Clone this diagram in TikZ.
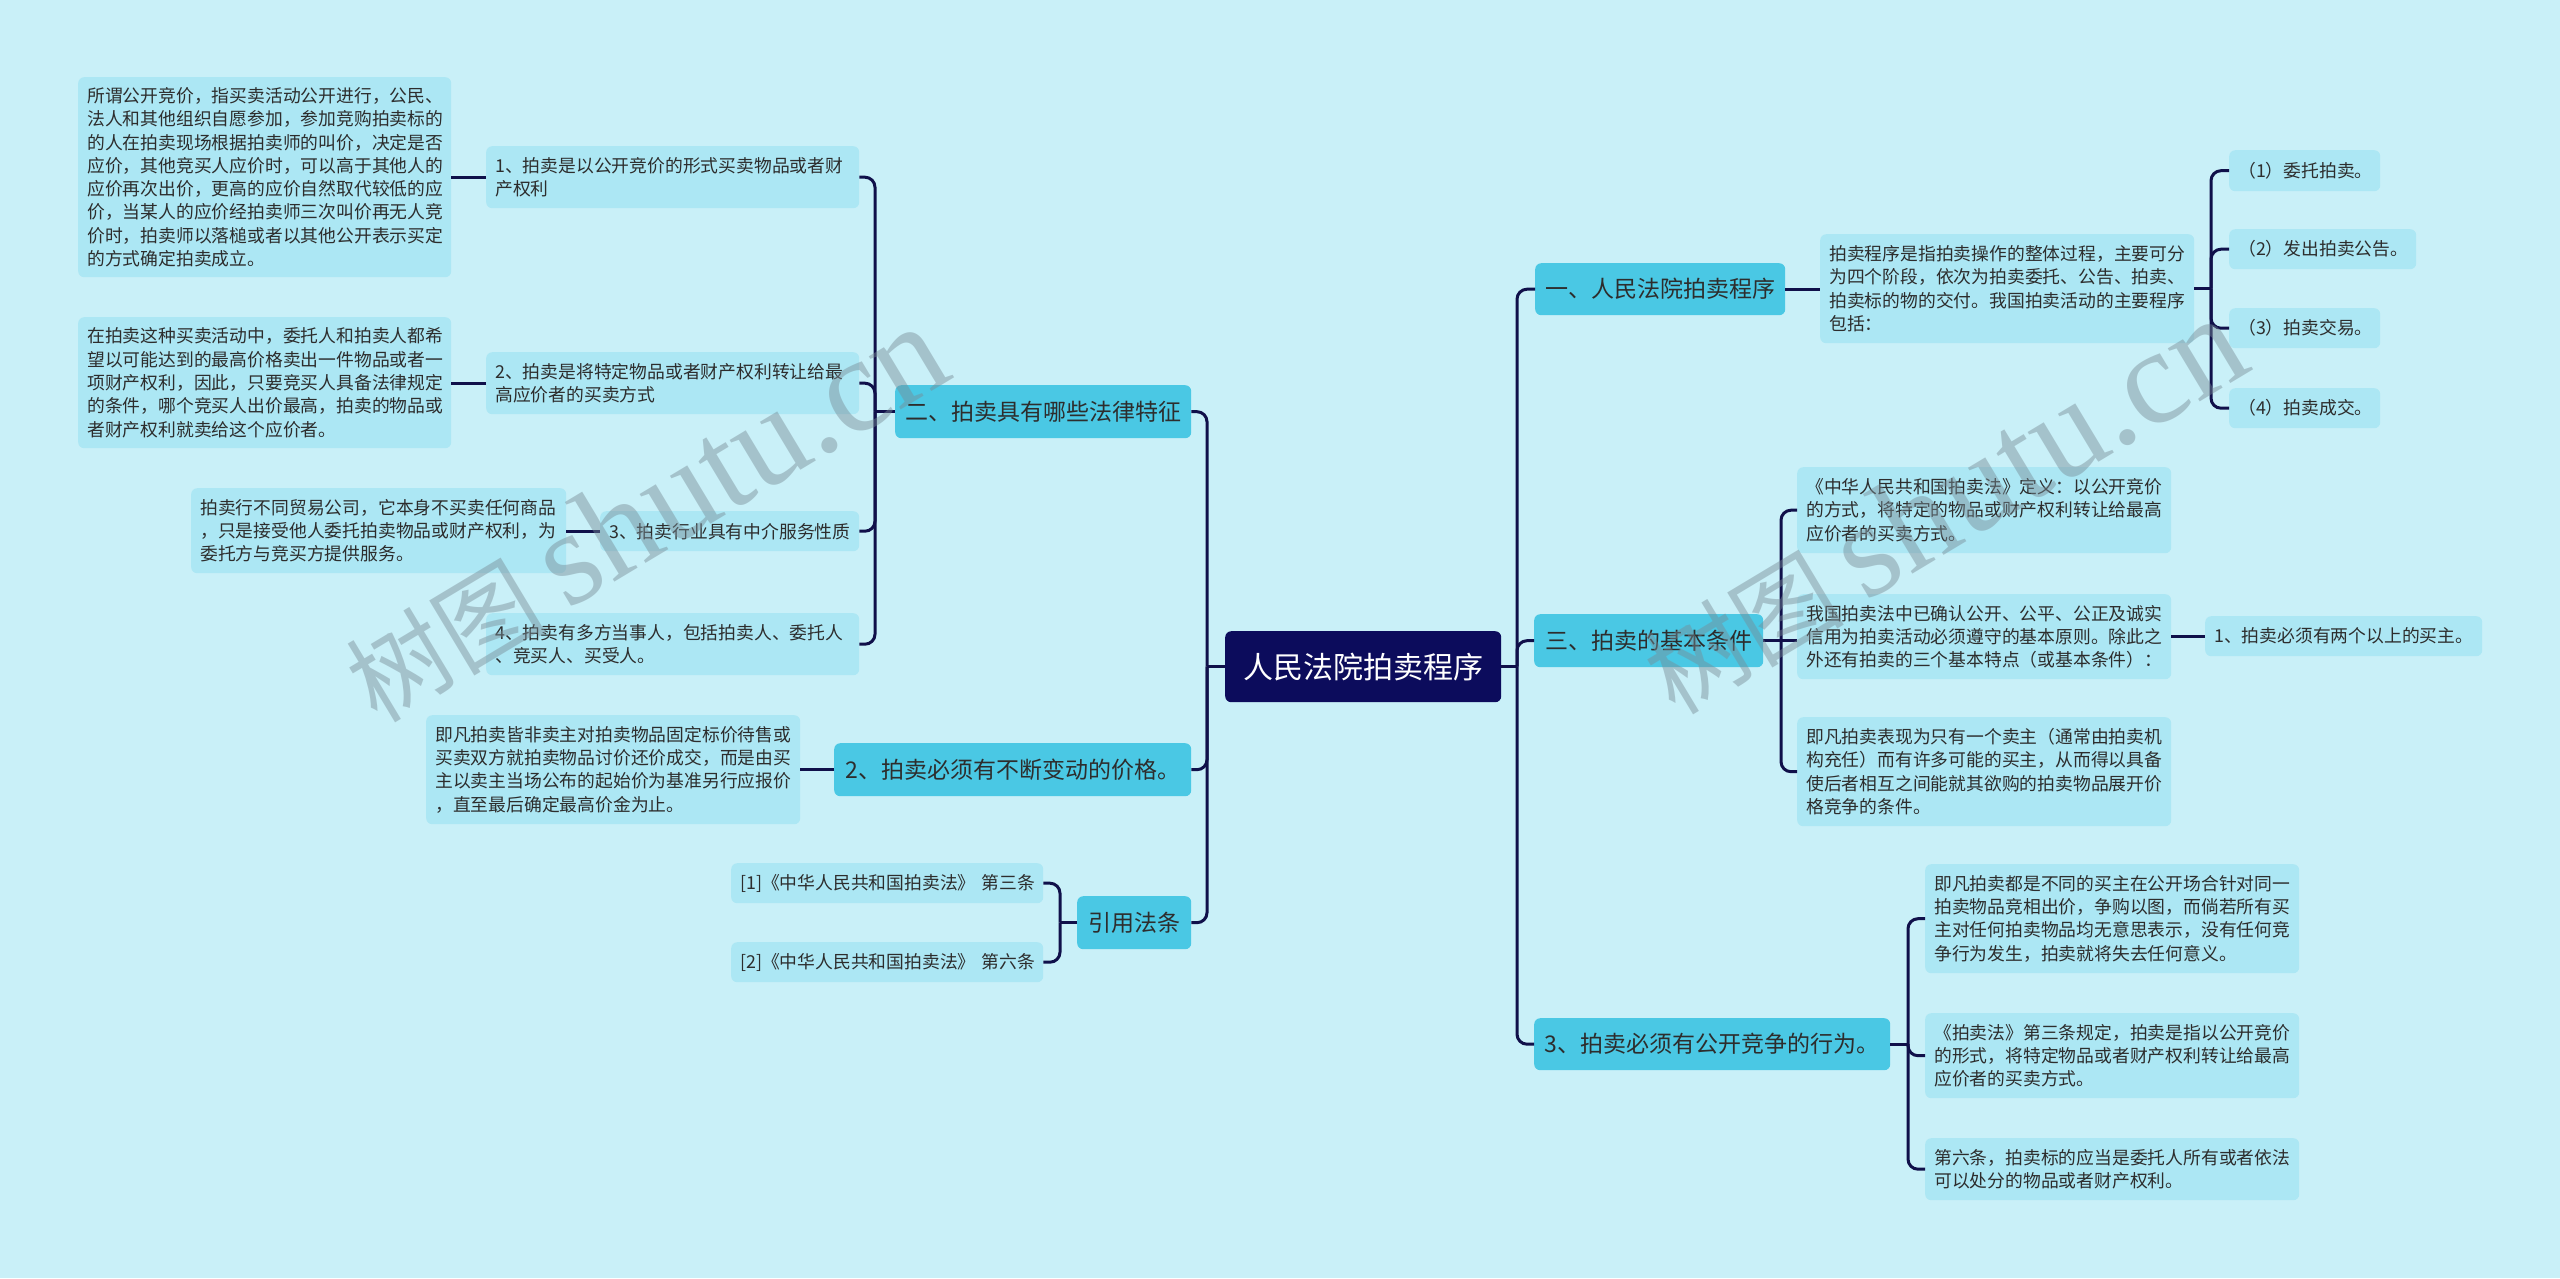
\documentclass[tikz,border=0pt]{standalone}
\usepackage{fontspec}
\setmainfont{Noto Sans CJK SC}
\newfontfamily\wmserif{Liberation Serif}
\newfontfamily\wmcjk{Noto Sans CJK SC}
\definecolor{bgc}{RGB}{201,240,248}
\definecolor{leafc}{RGB}{172,231,244}
\definecolor{lvlc}{RGB}{74,200,228}
\definecolor{rootc}{RGB}{12,12,92}
\definecolor{linec}{RGB}{16,16,74}
\definecolor{txtc}{RGB}{45,45,45}
\definecolor{wmc}{RGB}{120,140,150}
\tikzset{
  base/.style={anchor=north west, inner sep=0pt, rounded corners=6pt},
  leaf/.style={base, fill=leafc, text=txtc, align=left, font=\fontsize{17.8}{23.3}\selectfont},
  lvl/.style={base, fill=lvlc, text=txtc, align=center, font=\fontsize{23}{28}\selectfont},
  rootbox/.style={base, fill=rootc, text=white, align=center, font=\fontsize{30}{36}\selectfont},
  conn/.style={draw=linec, line width=3pt, rounded corners=10pt},
  wm/.style={text=wmc, opacity=0.45, inner sep=0pt},
}
\begin{document}
\begin{tikzpicture}[x=1pt,y=1pt]
\useasboundingbox (0,0) rectangle (2560,-1278);
\fill[bgc] (0,0) rectangle (2560,-1278);

% spine coordinates
\coordinate (ls) at (1207,0);
\coordinate (rs) at (1517,0);
\coordinate (lsL) at (875,0);
\coordinate (lsC) at (1060,0);
\coordinate (rsP) at (2211,0);
\coordinate (rsD) at (1781,0);
\coordinate (rsE) at (1908,0);

% root
\node[rootbox, minimum width=276, minimum height=71] (root) at (1225,-631) {人民法院拍卖程序};

% level 1 left
\node[lvl, minimum width=296, minimum height=53] (L) at (895,-385) {二、拍卖具有哪些法律特征};
\node[lvl, minimum width=357, minimum height=53] (L5) at (834,-743) {2、拍卖必须有不断变动的价格。};
\node[lvl, minimum width=114, minimum height=53] (L6) at (1077,-896) {引用法条};

% level 1 right
\node[lvl, minimum width=250, minimum height=52] (R1) at (1535,-263) {一、人民法院拍卖程序};
\node[lvl, minimum width=229, minimum height=53] (R2) at (1534,-614) {三、拍卖的基本条件};
\node[lvl, minimum width=356, minimum height=52] (R3) at (1534,-1018) {3、拍卖必须有公开竞争的行为。};

% left leaves
\node[leaf, minimum width=373, minimum height=62, text width=355pt] (L1) at (486,-146) {1、拍卖是以公开竞价的形式买卖物品或者财\\产权利};
\node[leaf, minimum width=373, minimum height=62, text width=355pt] (L2) at (486,-352) {2、拍卖是将特定物品或者财产权利转让给最\\高应价者的买卖方式};
\node[leaf, minimum width=259, minimum height=40, text width=241pt] (L3) at (600,-511) {3、拍卖行业具有中介服务性质};
\node[leaf, minimum width=373, minimum height=62, text width=355pt] (L4) at (486,-613) {4、拍卖有多方当事人，包括拍卖人、委托人\\、竞买人、买受人。};

\node[leaf, minimum width=373, minimum height=200, text width=355pt] (A1) at (78,-77) {所谓公开竞价，指买卖活动公开进行，公民、\\法人和其他组织自愿参加，参加竞购拍卖标的\\的人在拍卖现场根据拍卖师的叫价，决定是否\\应价，其他竞买人应价时，可以高于其他人的\\应价再次出价，更高的应价自然取代较低的应\\价，当某人的应价经拍卖师三次叫价再无人竞\\价时，拍卖师以落槌或者以其他公开表示买定\\的方式确定拍卖成立。};
\node[leaf, minimum width=373, minimum height=131, text width=355pt] (A2) at (78,-317) {在拍卖这种买卖活动中，委托人和拍卖人都希\\望以可能达到的最高价格卖出一件物品或者一\\项财产权利，因此，只要竞买人具备法律规定\\的条件，哪个竞买人出价最高，拍卖的物品或\\者财产权利就卖给这个应价者。};
\node[leaf, minimum width=375, minimum height=85, text width=357pt] (A3) at (191,-488) {拍卖行不同贸易公司，它本身不买卖任何商品\\，只是接受他人委托拍卖物品或财产权利，为\\委托方与竞买方提供服务。};
\node[leaf, minimum width=374, minimum height=109, text width=356pt] (A5) at (426,-715) {即凡拍卖皆非卖主对拍卖物品固定标价待售或\\买卖双方就拍卖物品讨价还价成交，而是由买\\主以卖主当场公布的起始价为基准另行应报价\\，直至最后确定最高价金为止。};
\node[leaf, minimum width=312, minimum height=40, text width=294pt] (C1) at (731,-863) {\mbox{[1]《中华人民共和国拍卖法》~第三条}};
\node[leaf, minimum width=312, minimum height=40, text width=294pt] (C2) at (731,-942) {\mbox{[2]《中华人民共和国拍卖法》~第六条}};

% right leaves
\node[leaf, minimum width=374, minimum height=109, text width=356pt] (R1d) at (1820,-234) {拍卖程序是指拍卖操作的整体过程，主要可分\\为四个阶段，依次为拍卖委托、公告、拍卖、\\拍卖标的物的交付。我国拍卖活动的主要程序\\包括：};
\node[leaf, minimum width=151, minimum height=41, text width=133pt] (P1) at (2229,-150) {（1）委托拍卖。};
\node[leaf, minimum width=187, minimum height=40, text width=169pt] (P2) at (2229,-229) {（2）发出拍卖公告。};
\node[leaf, minimum width=151, minimum height=40, text width=133pt] (P3) at (2229,-308) {（3）拍卖交易。};
\node[leaf, minimum width=151, minimum height=40, text width=133pt] (P4) at (2229,-388) {（4）拍卖成交。};

\node[leaf, minimum width=374, minimum height=86, text width=356pt] (D1) at (1797,-467) {《中华人民共和国拍卖法》定义：以公开竞价\\的方式，将特定的物品或财产权利转让给最高\\应价者的买卖方式。};
\node[leaf, minimum width=374, minimum height=85, text width=356pt] (D2) at (1797,-594) {我国拍卖法中已确认公开、公平、公正及诚实\\信用为拍卖活动必须遵守的基本原则。除此之\\外还有拍卖的三个基本特点（或基本条件）：};
\node[leaf, minimum width=374, minimum height=109, text width=356pt] (D3) at (1797,-717) {即凡拍卖表现为只有一个卖主（通常由拍卖机\\构充任）而有许多可能的买主，从而得以具备\\使后者相互之间能就其欲购的拍卖物品展开价\\格竞争的条件。};
\node[leaf, minimum width=277, minimum height=40, text width=259pt] (D2c) at (2205,-616) {1、拍卖必须有两个以上的买主。};

\node[leaf, minimum width=374, minimum height=109, text width=356pt] (E1) at (1925,-864) {即凡拍卖都是不同的买主在公开场合针对同一\\拍卖物品竞相出价，争购以图，而倘若所有买\\主对任何拍卖物品均无意思表示，没有任何竞\\争行为发生，拍卖就将失去任何意义。};
\node[leaf, minimum width=374, minimum height=85, text width=356pt] (E2) at (1925,-1013) {《拍卖法》第三条规定，拍卖是指以公开竞价\\的形式，将特定物品或者财产权利转让给最高\\应价者的买卖方式。};
\node[leaf, minimum width=374, minimum height=62, text width=356pt] (E3) at (1925,-1138) {第六条，拍卖标的应当是委托人所有或者依法\\可以处分的物品或者财产权利。};

% connectors: root
\draw[conn] (root.west) -- (root.west -| ls);
\draw[conn] (root.west -| ls) |- (L.east);
\draw[conn] (root.west -| ls) |- (L5.east);
\draw[conn] (root.west -| ls) |- (L6.east);
\draw[conn] (root.east) -- (root.east -| rs);
\draw[conn] (root.east -| rs) |- (R1.west);
\draw[conn] (root.east -| rs) |- (R2.west);
\draw[conn] (root.east -| rs) |- (R3.west);

% L bracket
\draw[conn] (L.west) -- (L.west -| lsL);
\draw[conn] (L.west -| lsL) |- (L1.east);
\draw[conn] (L.west -| lsL) |- (L2.east);
\draw[conn] (L.west -| lsL) |- (L3.east);
\draw[conn] (L.west -| lsL) |- (L4.east);
\draw[conn] (L1.west) -- (L1.west -| A1.east);
\draw[conn] (L2.west) -- (L2.west -| A2.east);
\draw[conn] (L3.west) -- (L3.west -| A3.east);
\draw[conn] (L5.west) -- (L5.west -| A5.east);

% L6 bracket
\draw[conn] (L6.west) -- (L6.west -| lsC);
\draw[conn] (L6.west -| lsC) |- (C1.east);
\draw[conn] (L6.west -| lsC) |- (C2.east);

% R1
\draw[conn] (R1.east) -- (R1.east -| R1d.west);
\draw[conn] (R1d.east) -- (R1d.east -| rsP);
\draw[conn] (R1d.east -| rsP) |- (P1.west);
\draw[conn] (R1d.east -| rsP) |- (P2.west);
\draw[conn] (R1d.east -| rsP) |- (P3.west);
\draw[conn] (R1d.east -| rsP) |- (P4.west);

% R2
\draw[conn] (R2.east) -- (R2.east -| D2.west);
\draw[conn] (R2.east -| rsD) |- (D1.west);
\draw[conn] (R2.east -| rsD) |- (D3.west);
\draw[conn] (D2c.west) -- (D2c.west -| D2.east);

% R3
\draw[conn] (R3.east) -- (R3.east -| rsE);
\draw[conn] (R3.east -| rsE) |- (E1.west);
\draw[conn] (R3.east -| rsE) |- (E2.west);
\draw[conn] (R3.east -| rsE) |- (E3.west);

% watermarks
\node[wm, rotate=31] (wm1) at (645,-514) {\wmcjk\fontsize{100}{100}\selectfont 树图\ \wmserif\fontsize{135}{135}\selectfont shutu.cn};
\node[wm, rotate=31] (wm2) at (1943,-506) {\wmcjk\fontsize{100}{100}\selectfont 树图\ \wmserif\fontsize{135}{135}\selectfont shutu.cn};
\end{tikzpicture}
\end{document}
